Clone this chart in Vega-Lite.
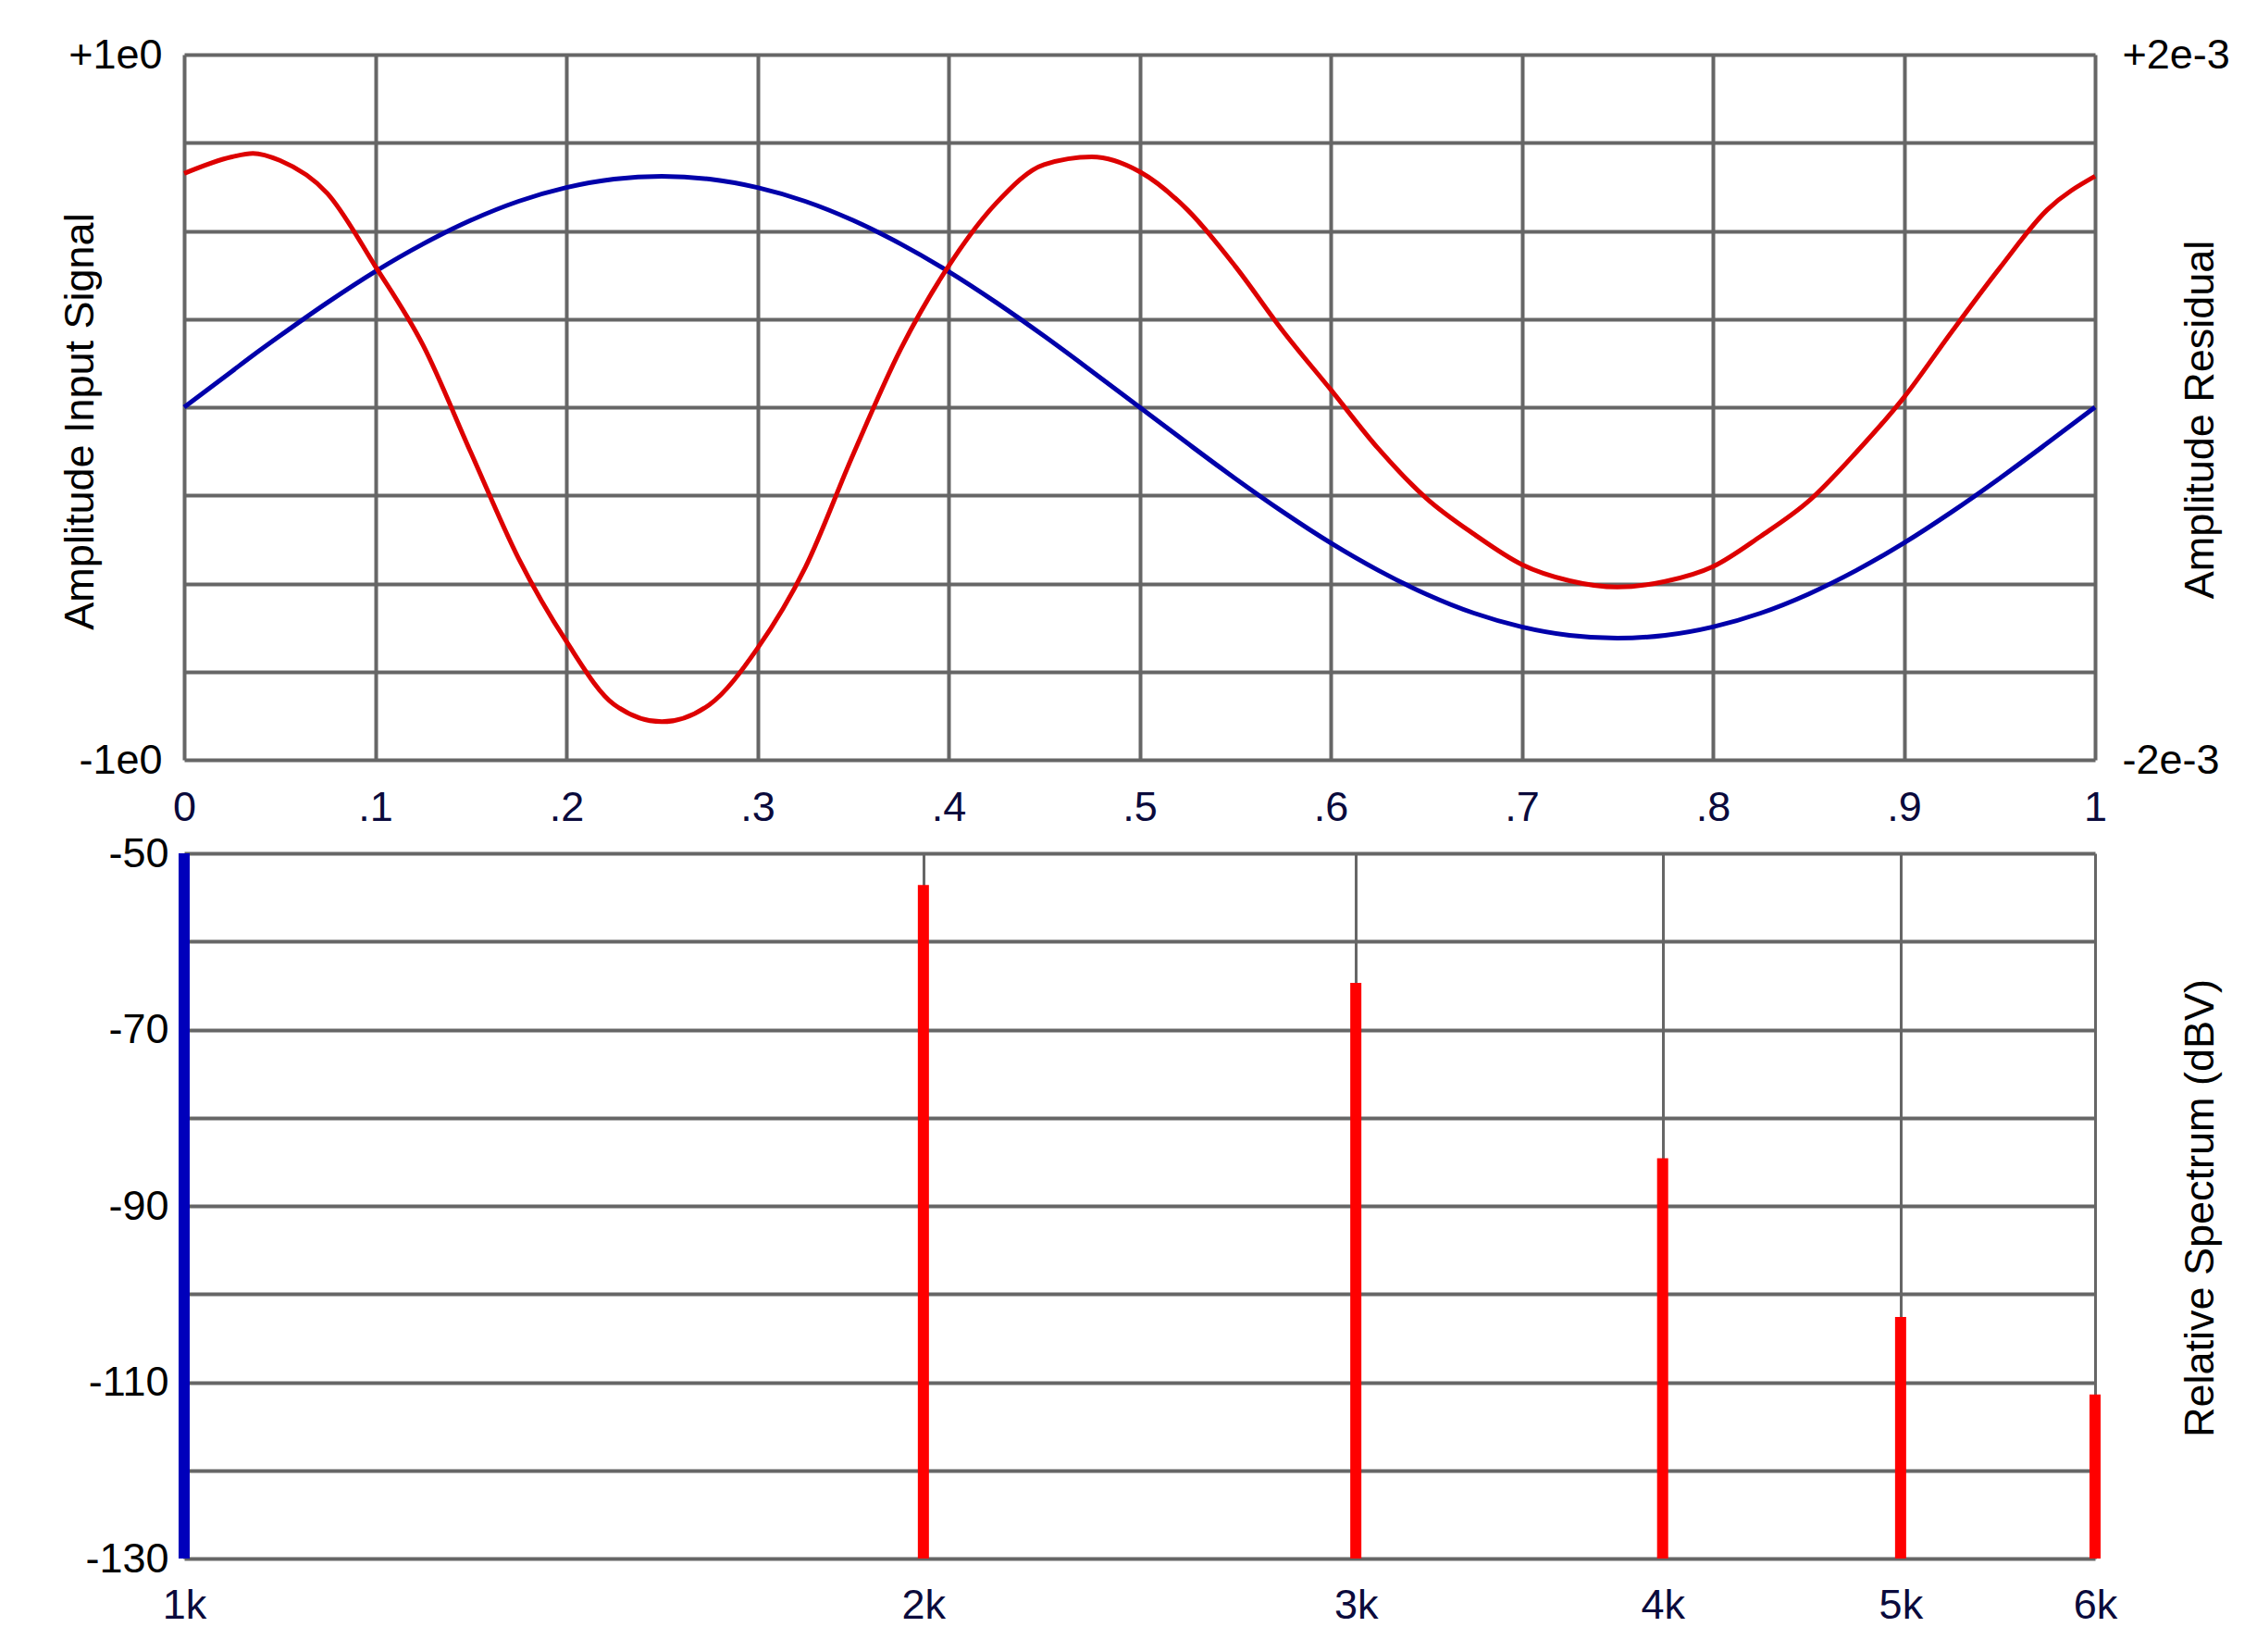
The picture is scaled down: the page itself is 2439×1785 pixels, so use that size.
{
  "$schema": "https://vega.github.io/schema/vega-lite/v6.json",
  "padding": {"left": 64, "top": 37, "right": 20, "bottom": 20},
  "background": "white",
  "bounds": "flush",
  "spacing": 101,
  "config": {
    "view": {"stroke": null},
    "font": "Liberation Sans",
    "axis": {
      "labelFont": "Liberation Sans", "titleFont": "Liberation Sans",
      "labelFontSize": 45, "titleFontSize": 45, "titleFontWeight": "normal",
      "labelColor": "#000000", "titleColor": "#000000",
      "ticks": false, "domain": false,
      "gridColor": "#666666", "gridWidth": 4, "gridOpacity": 1,
      "labelFlush": false, "labelOverlap": false, "labelBound": false
    }
  },
  "datasets": {
    "wave": [
      {"x": 0, "input": 0, "residual": 0.001326},
      {"x": 0.025, "input": 0.102, "residual": 0.00142},
      {"x": 0.036, "input": 0.147, "residual": 0.00144},
      {"x": 0.05, "input": 0.202, "residual": 0.0014},
      {"x": 0.075, "input": 0.297, "residual": 0.001212},
      {"x": 0.1, "input": 0.385, "residual": 0.0008},
      {"x": 0.125, "input": 0.463, "residual": 0.000352},
      {"x": 0.15, "input": 0.53, "residual": -0.000256},
      {"x": 0.175, "input": 0.584, "residual": -0.000858},
      {"x": 0.2, "input": 0.623, "residual": -0.001328},
      {"x": 0.225, "input": 0.647, "residual": -0.001686},
      {"x": 0.25, "input": 0.655, "residual": -0.001784},
      {"x": 0.275, "input": 0.647, "residual": -0.001686},
      {"x": 0.3, "input": 0.623, "residual": -0.001368},
      {"x": 0.325, "input": 0.584, "residual": -0.00091},
      {"x": 0.35, "input": 0.53, "residual": -0.00027},
      {"x": 0.375, "input": 0.463, "residual": 0.00033},
      {"x": 0.4, "input": 0.385, "residual": 0.0008},
      {"x": 0.425, "input": 0.297, "residual": 0.001158},
      {"x": 0.45, "input": 0.202, "residual": 0.001376},
      {"x": 0.475, "input": 0.102, "residual": 0.00142},
      {"x": 0.5, "input": 0, "residual": 0.001336},
      {"x": 0.525, "input": -0.102, "residual": 0.00112},
      {"x": 0.55, "input": -0.202, "residual": 0.0008},
      {"x": 0.575, "input": -0.297, "residual": 0.000432},
      {"x": 0.6, "input": -0.385, "residual": 0.0001},
      {"x": 0.625, "input": -0.463, "residual": -0.000236},
      {"x": 0.65, "input": -0.53, "residual": -0.000516},
      {"x": 0.675, "input": -0.584, "residual": -0.00072},
      {"x": 0.7, "input": -0.623, "residual": -0.000892},
      {"x": 0.725, "input": -0.647, "residual": -0.000984},
      {"x": 0.75, "input": -0.655, "residual": -0.00102},
      {"x": 0.775, "input": -0.647, "residual": -0.000988},
      {"x": 0.8, "input": -0.623, "residual": -0.000904},
      {"x": 0.825, "input": -0.584, "residual": -0.000732},
      {"x": 0.85, "input": -0.53, "residual": -0.000534},
      {"x": 0.875, "input": -0.463, "residual": -0.000256},
      {"x": 0.9, "input": -0.385, "residual": 0.000056},
      {"x": 0.925, "input": -0.297, "residual": 0.000428},
      {"x": 0.95, "input": -0.202, "residual": 0.000788},
      {"x": 0.975, "input": -0.102, "residual": 0.00112},
      {"x": 1, "input": 0, "residual": 0.00131}
    ],
    "spectrum": [
      {"freq": 1000, "level": -50, "component": "fundamental"},
      {"freq": 2000, "level": -53.6, "component": "harmonic"},
      {"freq": 3000, "level": -64.7, "component": "harmonic"},
      {"freq": 4000, "level": -84.6, "component": "harmonic"},
      {"freq": 5000, "level": -102.6, "component": "harmonic"},
      {"freq": 6000, "level": -111.4, "component": "harmonic"}
    ]
  },
  "vconcat": [
    {
      "width": 2065,
      "height": 762,
      "data": {"name": "wave"},
      "layer": [
        {
          "mark": {"type": "line", "color": "#0000aa", "strokeWidth": 5, "interpolate": "monotone"},
          "encoding": {
            "x": {
              "field": "x", "type": "quantitative",
              "scale": {"domain": [0, 1], "nice": false, "zero": false},
              "axis": {
                "values": [0, 0.1, 0.2, 0.3, 0.4, 0.5, 0.6, 0.7, 0.8, 0.9, 1],
                "labelExpr": "datum.value == 0 ? '0' : datum.value == 1 ? '1' : '.' + round(datum.value * 10)",
                "labelColor": "#0a0a3c", "labelPadding": 29, "title": null, "grid": true
              }
            },
            "y": {
              "field": "input", "type": "quantitative",
              "scale": {"domain": [-1, 1], "nice": false},
              "axis": {
                "orient": "left",
                "values": [-1, -0.75, -0.5, -0.25, 0, 0.25, 0.5, 0.75, 1],
                "labelExpr": "datum.value == 1 ? '+1e0' : datum.value == -1 ? '-1e0' : ''",
                "labelPadding": 24, "grid": true,
                "title": "Amplitude Input Signal",
                "titleAngle": -90, "titleX": -113, "titleY": 396,
                "titleAlign": "center", "titleBaseline": "middle"
              }
            }
          }
        },
        {
          "mark": {"type": "line", "color": "#dd0000", "strokeWidth": 5, "interpolate": "monotone"},
          "encoding": {
            "x": {"field": "x", "type": "quantitative"},
            "y": {
              "field": "residual", "type": "quantitative",
              "scale": {"domain": [-0.002, 0.002], "nice": false},
              "axis": {
                "orient": "right",
                "values": [-0.002, 0.002],
                "labelExpr": "datum.value > 0 ? '+2e-3' : '-2e-3'",
                "labelPadding": 29, "grid": false,
                "title": "Amplitude Residual",
                "titleAngle": -90, "titleX": 113, "titleY": 394,
                "titleAlign": "center", "titleBaseline": "middle"
              }
            }
          }
        }
      ],
      "resolve": {"scale": {"y": "independent"}}
    },
    {
      "width": 2065,
      "height": 762,
      "data": {"name": "spectrum"},
      "layer": [
        {
          "mark": {"type": "rule", "strokeWidth": 12, "strokeCap": "butt"},
          "encoding": {
            "x": {
              "field": "freq", "type": "quantitative",
              "scale": {"type": "log", "domain": [1000, 6000], "nice": false},
              "axis": {
                "values": [1000, 2000, 3000, 4000, 5000, 6000],
                "labelExpr": "(datum.value / 1000) + 'k'",
                "labelColor": "#0a0a3c", "labelPadding": 28, "title": null,
                "grid": true, "gridWidth": 3
              }
            },
            "y": {
              "field": "level", "type": "quantitative",
              "scale": {"domain": [-130, -50], "nice": false, "zero": false},
              "axis": {
                "orient": "left",
                "values": [-130, -120, -110, -100, -90, -80, -70, -60, -50],
                "labelExpr": "(datum.value + 50) % 20 == 0 ? '-' + (-datum.value) : ''",
                "labelPadding": 17, "grid": true, "title": null
              }
            },
            "y2": {"datum": -130},
            "color": {
              "field": "component", "type": "nominal",
              "scale": {"domain": ["fundamental", "harmonic"], "range": ["#0000bb", "#ff0000"]},
              "legend": null
            }
          }
        },
        {
          "mark": {"type": "rule", "opacity": 0},
          "encoding": {
            "x": {"field": "freq", "type": "quantitative"},
            "y": {
              "field": "level", "type": "quantitative",
              "scale": {"domain": [-130, -50], "nice": false, "zero": false},
              "axis": {
                "orient": "right", "labels": false, "grid": false,
                "title": "Relative Spectrum (dBV)",
                "titleAngle": -90, "titleX": 113, "titleY": 383,
                "titleAlign": "center", "titleBaseline": "middle"
              }
            }
          }
        }
      ],
      "resolve": {"scale": {"y": "independent"}}
    }
  ]
}
